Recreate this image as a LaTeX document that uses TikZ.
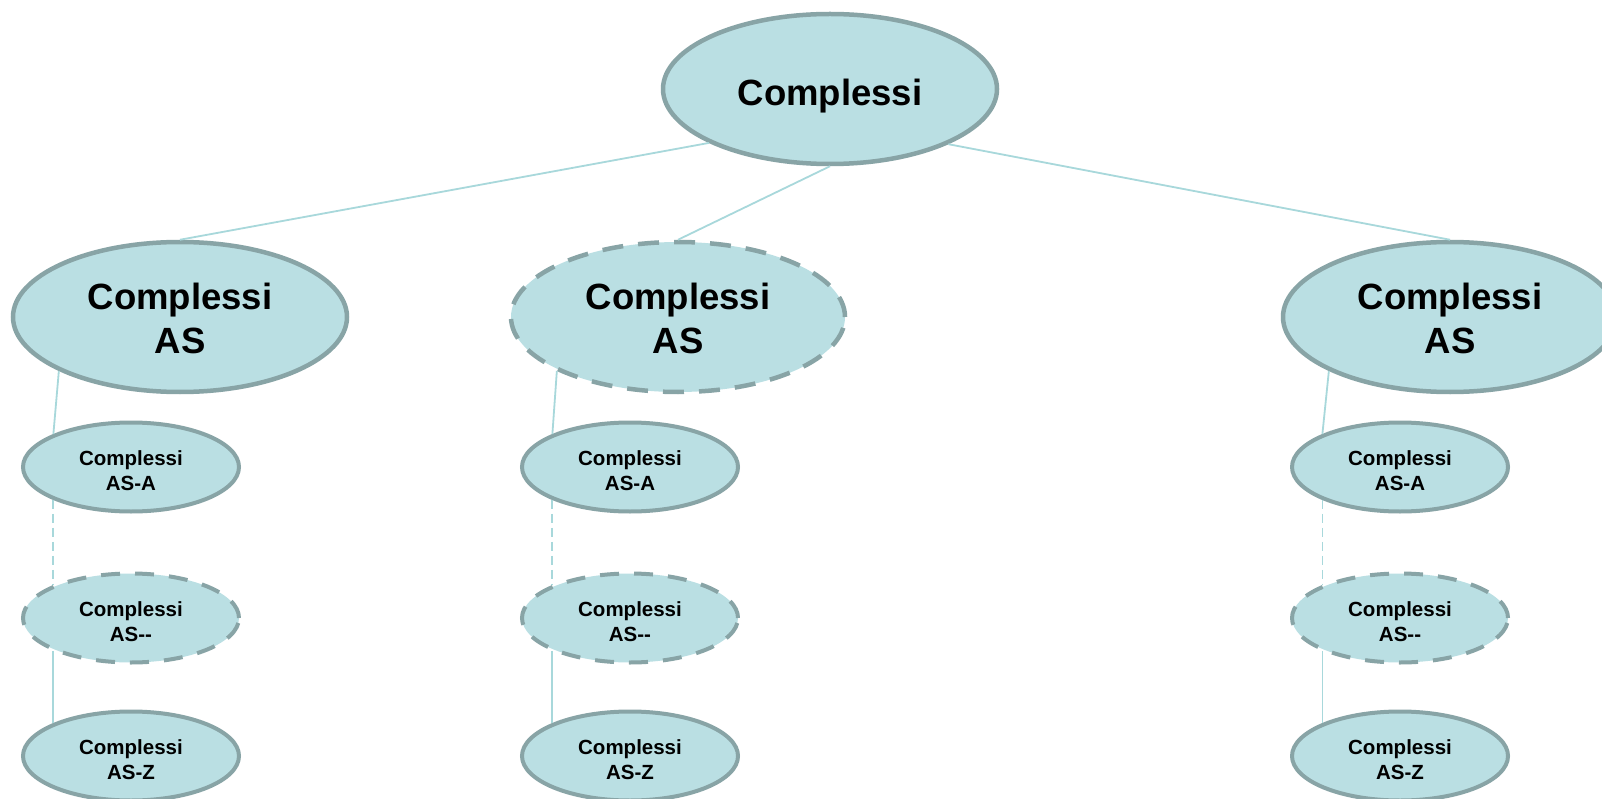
\documentclass[tikz,border=0pt]{standalone}
\usepackage{fontspec}
\setmainfont{Liberation Sans}
\usetikzlibrary{shapes.geometric}
\definecolor{nodefill}{HTML}{BADFE3}
\definecolor{nodeline}{HTML}{88A4A6}
\definecolor{linkline}{HTML}{A8D8DB}
% centred lines of text, lowered a little inside their ellipse
\newcommand\celltext[2]{\raisebox{-#1}[\height][\depth]{\begin{tabular}{@{}c@{}}#2\end{tabular}}}
\begin{document}
\begin{tikzpicture}[x=1pt,y=-1pt,
  bigell/.style={ellipse,draw=nodeline,fill=nodefill,line width=4.5pt,inner sep=0pt,
    minimum width=334pt,minimum height=150pt,
    font=\fontsize{36.5}{44}\selectfont\bfseries},
  smallell/.style={ellipse,draw=nodeline,fill=nodefill,line width=4pt,inner sep=0pt,
    minimum width=216pt,minimum height=89pt,
    font=\fontsize{20.5}{25.5}\selectfont\bfseries},
  bigdash/.style={dash pattern=on 21pt off 15pt},
  smalldash/.style={dash pattern=on 19pt off 15pt},
  link/.style={draw=linkline,line width=1.8pt},
  linkdash/.style={link,dash pattern=on 9pt off 5pt}]
\clip (0,0) rectangle (1602,799);
\fill[white] (0,0) rectangle (1602,799);

% root
\node[bigell] (root) at (830,89) {\celltext{8pt}{Complessi}};

% second level
\node[bigell] (asL) at (180,317) {\celltext{6pt}{Complessi\\AS}};
\node[bigell,bigdash] (asM) at (678,317) {\celltext{6pt}{Complessi\\AS}};
\node[bigell] (asR) at (1450,317) {\celltext{6pt}{Complessi\\AS}};

% third level, one column per branch
\foreach \b/\x in {L/131,M/630,R/1400}{
  \node[smallell] (a\b) at (\x,467) {\celltext{6pt}{Complessi\\AS-A}};
  \node[smallell,smalldash] (d\b) at (\x,618) {\celltext{6pt}{Complessi\\AS-{}-}};
  \node[smallell] (z\b) at (\x,756) {\celltext{6pt}{Complessi\\AS-Z}};
}

% links from the root
\draw[link] (root.204.6) -- (asL.north);
\draw[link] (root.south) -- (asM.north);
\draw[link] (root.335.4) -- (asR.north);

% links inside each branch
\foreach \b in {L,M,R}{
  \draw[link] (as\b.204) -- (a\b.157);
  \draw[linkdash] (a\b.203) -- (d\b.157);
  \draw[link] (d\b.203) -- (z\b.157);
}
\end{tikzpicture}
\end{document}
